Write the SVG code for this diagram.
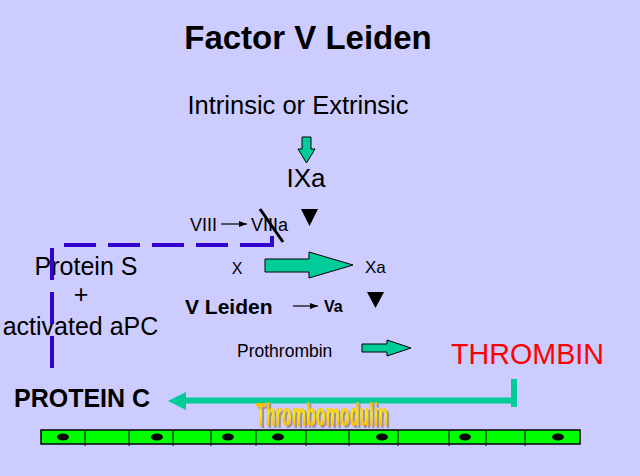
<svg xmlns="http://www.w3.org/2000/svg" width="640" height="476" viewBox="0 0 640 476">
<style>
text{font-family:"Liberation Sans",Arial,sans-serif;fill:#000}
.b{font-weight:bold}
.blk{fill:#00CC99;stroke:#000;stroke-width:1}
.tri{fill:#000}
.thin{stroke:#000;stroke-width:1.2;fill:none}
</style>
<defs>
<marker id="ah" markerUnits="userSpaceOnUse" markerWidth="8" markerHeight="6" refX="8" refY="3" orient="auto">
<path d="M0,0 L8,3 L0,6 z" fill="#000"/>
</marker>
<linearGradient id="tm" x1="0" y1="0" x2="0" y2="1">
<stop offset="0" stop-color="#FF9900"/>
<stop offset="0.5" stop-color="#FFE800"/>
<stop offset="1" stop-color="#FF9900"/>
</linearGradient>
<filter id="sh" x="-10%" y="-20%" width="130%" height="150%">
<feDropShadow dx="2" dy="2" stdDeviation="0.6" flood-color="#7a6a5a" flood-opacity="0.6"/>
</filter>
</defs>
<rect width="640" height="476" fill="#CCCCFF"/>

<g id="title"><text class="b" x="308" y="49" font-size="33" text-anchor="middle">Factor V Leiden</text></g>
<g id="intrinsic"><text x="298" y="114" font-size="25.5" text-anchor="middle">Intrinsic or Extrinsic</text></g>
<g id="ixa"><text x="306" y="187" font-size="26" text-anchor="middle">IXa</text></g>
<g id="viii"><text x="190" y="231" font-size="18">VIII</text></g>
<g id="viiia"><text x="251" y="231" font-size="18">VIIIa</text>
<line x1="260" y1="209" x2="283" y2="242" stroke="#000" stroke-width="3"/></g>
<g id="proteinS">
<text x="86" y="275" font-size="25" text-anchor="middle">Protein S</text>
<text x="81" y="303" font-size="25" text-anchor="middle">+</text>
<text x="80.5" y="335" font-size="25" text-anchor="middle">activated aPC</text>
</g>
<g id="x"><text x="237" y="274" font-size="16" text-anchor="middle">X</text></g>
<g id="xa"><text x="365" y="273" font-size="17">Xa</text></g>
<g id="vleiden"><text class="b" x="185" y="314" font-size="21">V Leiden</text></g>
<g id="va"><text class="b" x="324" y="312" font-size="16">Va</text></g>
<g id="prothrombin"><text x="237" y="357" font-size="17.5">Prothrombin</text></g>
<g id="thrombin"><text x="451" y="364" font-size="28.7" style="fill:#FF0000">THROMBIN</text></g>
<g id="proteinC"><text class="b" x="14" y="407" font-size="25">PROTEIN C</text></g>

<g id="triangles">
<path class="tri" d="M301,209 L318,209 L309.5,226 z"/>
<path class="tri" d="M367,292 L384,292 L375.5,308 z"/>
</g>

<g id="membrane">
<rect x="41" y="430" width="539" height="14" fill="#00FF00" stroke="#000" stroke-width="1.5"/>
<g stroke="#222" stroke-width="1.2">
<line x1="85" y1="430" x2="85" y2="446"/>
<line x1="129" y1="430" x2="129" y2="446"/>
<line x1="173" y1="430" x2="173" y2="446"/>
<line x1="211" y1="430" x2="211" y2="446"/>
<line x1="256" y1="430" x2="256" y2="446"/>
<line x1="306" y1="430" x2="306" y2="446"/>
<line x1="349" y1="430" x2="349" y2="446"/>
<line x1="398" y1="430" x2="398" y2="446"/>
<line x1="449" y1="430" x2="449" y2="446"/>
<line x1="486" y1="430" x2="486" y2="446"/>
<line x1="525" y1="430" x2="525" y2="446"/>
</g>
<g fill="#000">
<ellipse cx="63" cy="437" rx="6" ry="3.5"/>
<ellipse cx="157" cy="437" rx="6" ry="3.5"/>
<ellipse cx="228" cy="437" rx="6" ry="3.5"/>
<ellipse cx="278" cy="437" rx="6" ry="3.5"/>
<ellipse cx="382" cy="437" rx="6" ry="3.5"/>
<ellipse cx="465" cy="437" rx="6" ry="3.5"/>
<ellipse cx="558" cy="437" rx="6" ry="3.5"/>
</g>
</g>

<g id="connectors">
<path class="blk" d="M302,137 H311 V149 H315 L306.5,163 L298,149 H302 z"/>
<path class="blk" d="M265,259 H309 V252 L353,265 L309,278 V272 H265 z"/>
<path class="blk" d="M362,344 H387 V340 L411,348 L387,356 V352 H362 z"/>
<line class="thin" x1="221" y1="224" x2="247" y2="224" marker-end="url(#ah)"/>
<line class="thin" x1="293" y1="306" x2="318" y2="306" marker-end="url(#ah)"/>
<path d="M272,236 V245 H52 V368" fill="none" stroke="#3300CC" stroke-width="4" stroke-dasharray="41 12 32 12 32 12 32 12 32 15 32 12 32 12 32 12"/>
<g id="inhibit">
<line x1="185" y1="400.5" x2="514" y2="400.5" stroke="#00CC99" stroke-width="6"/>
<line x1="514" y1="379" x2="514" y2="407" stroke="#00CC99" stroke-width="6"/>
<path d="M168,401 L186,392 L186,410 z" fill="#00CC99"/>
</g>
</g>

<g id="thrombomodulin">
<text class="b" x="256" y="426" font-size="33" textLength="132" lengthAdjust="spacingAndGlyphs" style="fill:url(#tm)" filter="url(#sh)">Thrombomodulin</text>
</g>
</svg>
